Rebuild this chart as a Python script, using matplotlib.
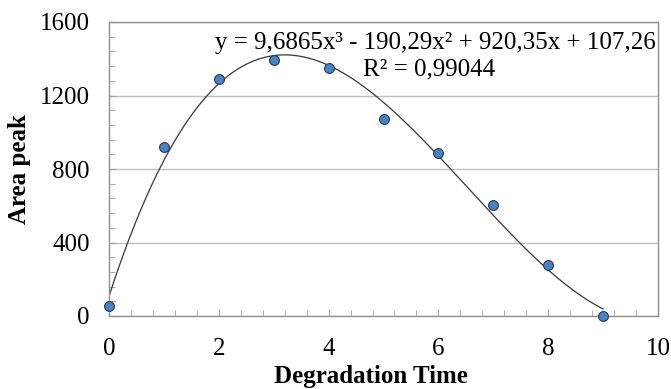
import numpy as np
import matplotlib.pyplot as plt
from matplotlib.ticker import MultipleLocator

plt.rcParams['font.family'] = ['Liberation Serif', 'DejaVu Serif']

# measured points
time = [0, 1, 2, 3, 4, 5, 6, 7, 8, 9]
area = [54, 920, 1292, 1393, 1350, 1072, 887, 604, 278, 0]

# trendline coefficients (cubic) as printed on the chart
coef = [9.6865, -190.29, 920.35, 107.26]
eq_text = 'y = 9,6865x³ - 190,29x² + 920,35x + 107,26'
r2_text = 'R² = 0,99044'

fig = plt.figure(figsize=(6.71, 3.89), dpi=100)
ax = fig.add_axes([109 / 671, 1 - 316 / 389, 549 / 671, 294 / 389])

xs = np.linspace(min(time), max(time), 200)
ax.plot(xs, np.polyval(coef, xs), color='#383838', lw=0.9, zorder=2)
ax.scatter(time, area, s=50, color='#4f81bd', edgecolor='#1f3a5f',
           linewidth=0.8, zorder=3, clip_on=False)

ax.set_xlim(0, 10)
ax.set_ylim(0, 1600)
ax.xaxis.set_major_locator(MultipleLocator(2))
ax.xaxis.set_minor_locator(MultipleLocator(0.4))
ax.yaxis.set_major_locator(MultipleLocator(400))
ax.yaxis.set_minor_locator(MultipleLocator(80))
ax.grid(axis='y', which='major', color='#c0c0c0', lw=1.0)
ax.set_axisbelow(True)
ax.tick_params(which='both', direction='in', color='#a0a0a0', labelsize=18)
ax.tick_params(which='major', length=5)
ax.tick_params(which='minor', length=4)
ax.tick_params(axis='x', pad=16)
ax.tick_params(axis='y', pad=14)
for s in ax.spines.values():
    s.set_color('#909090')
    s.set_linewidth(1.0)

ax.set_xlabel('Degradation Time', fontsize=18, fontweight='bold')
ax.xaxis.set_label_coords(0.477, -0.165)
ax.set_ylabel('Area peak', fontsize=18, fontweight='bold', labelpad=6)

ax.text(0.995, 0.93, eq_text, transform=ax.transAxes, ha='right', va='center',
        fontsize=18)
ax.text(0.463, 0.837, r2_text, transform=ax.transAxes, ha='left', va='center',
        fontsize=18)

fig.savefig('out.png', dpi=100)
